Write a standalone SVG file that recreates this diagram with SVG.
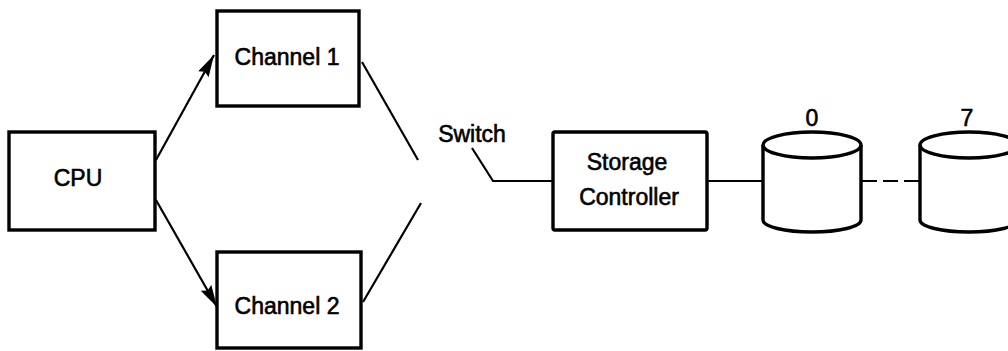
<svg xmlns="http://www.w3.org/2000/svg" width="1008" height="351" viewBox="0 0 1008 351">
<style>
.box{fill:#fff;stroke:#000;stroke-width:3.4}
.line{fill:none;stroke:#000;stroke-width:2.2}
.drum{fill:#fff;stroke:#000;stroke-width:3.4}
.lbl{font-family:"Liberation Sans",Arial,sans-serif;font-size:23px;fill:#000;stroke:#000;stroke-width:0.6;text-anchor:middle}
</style>
<defs>
<marker id="arr" viewBox="0 0 22 12" refX="22" refY="6" markerWidth="22" markerHeight="12" markerUnits="userSpaceOnUse" orient="auto">
<path d="M0,0 L22,6 L0,12 L3,6 Z" fill="#000"/>
</marker>
</defs>
<rect width="1008" height="351" fill="#fff"/>
<g id="connectors">
<line class="line" x1="156" y1="160" x2="214" y2="55" marker-end="url(#arr)"/>
<line class="line" x1="156" y1="200" x2="217" y2="307" marker-end="url(#arr)"/>
<line class="line" x1="362" y1="62" x2="418" y2="160"/>
<line class="line" x1="363" y1="302" x2="421" y2="203"/>
<polyline class="line" points="472,148 493,181 553,181"/>
<line class="line" x1="707" y1="181" x2="763" y2="181"/>
<line class="line" x1="862" y1="181" x2="920" y2="181" stroke-width="3" stroke-dasharray="15,6"/>
</g>
<g id="cpu">
<rect class="box" x="9" y="132" width="146" height="98"/>
<text class="lbl" x="78" y="186">CPU</text>
</g>
<g id="channel1">
<rect class="box" x="217" y="11" width="142" height="95"/>
<text class="lbl" x="287" y="65">Channel 1</text>
</g>
<g id="channel2">
<rect class="box" x="217" y="252" width="144" height="96"/>
<text class="lbl" x="287" y="314">Channel 2</text>
</g>
<g id="switch">
<text class="lbl" x="472" y="142">Switch</text>
</g>
<g id="storage-controller">
<rect class="box" x="553" y="132" width="154" height="98" rx="2"/>
<text class="lbl" x="627" y="170">Storage</text>
<text class="lbl" x="629" y="205">Controller</text>
</g>
<g id="drum0">
<path class="drum" d="M763,145 L763,220 A49,12 0 0 0 861,220 L861,145"/>
<ellipse class="drum" cx="812" cy="145" rx="49" ry="13"/>
<text class="lbl" x="812" y="126">0</text>
</g>
<g id="drum7">
<path class="drum" d="M920,145 L920,220 A49,12 0 0 0 1018,220 L1018,145"/>
<ellipse class="drum" cx="969" cy="145" rx="49" ry="13"/>
<text class="lbl" x="967" y="126">7</text>
</g>
</svg>
